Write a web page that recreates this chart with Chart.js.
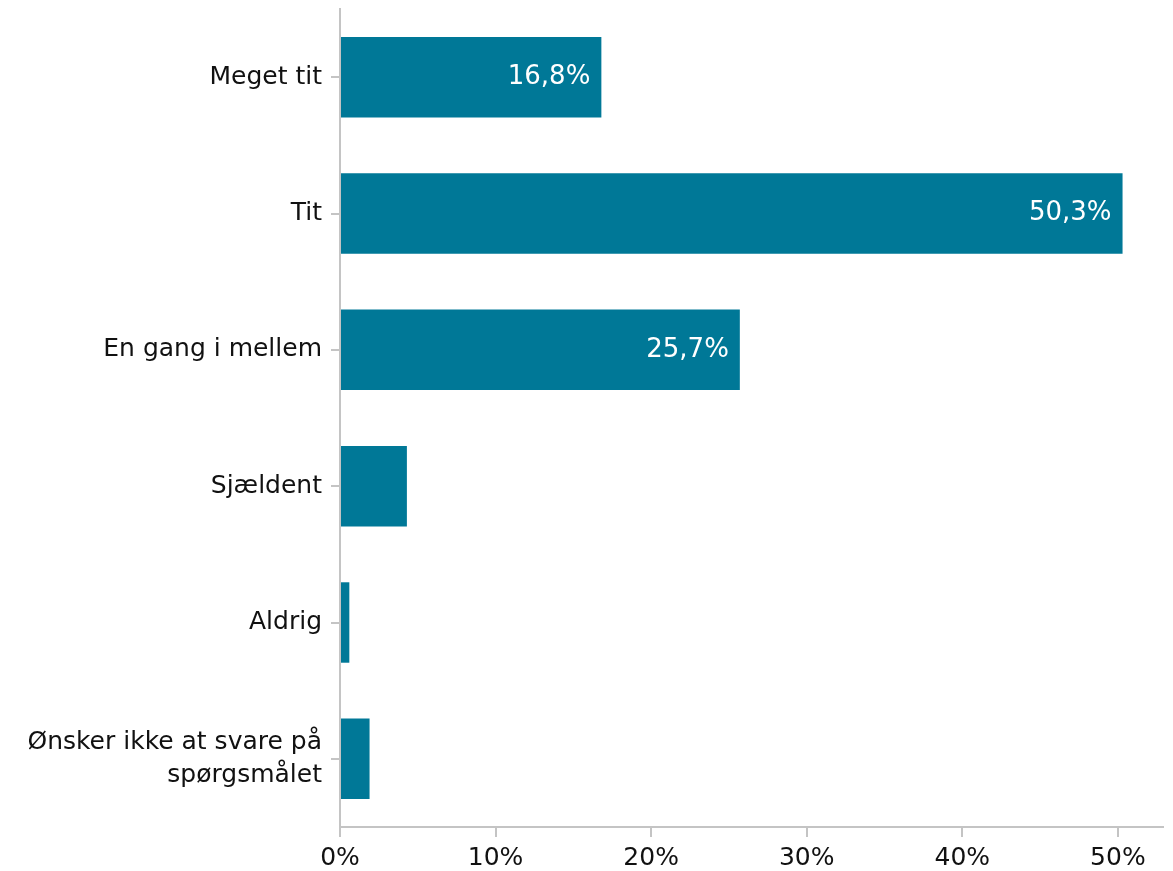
<!DOCTYPE html>
<html>
<head>
<meta charset="utf-8">
<script src="https://cdn.jsdelivr.net/npm/chart.js@4"></script>
<style>
  html, body { margin: 0; padding: 0; background: #fff; }
  #wrap { width: 1173px; height: 871px; }
</style>
</head>
<body>
<div id="wrap"><canvas id="chart"></canvas></div>
<script>
var categories = [
    "Meget tit",
    "Tit",
    "En gang i mellem",
    "Sjældent",
    "Aldrig",
    ["Ønsker ikke at svare på", "spørgsmålet"]
];
var shares = [16.8, 50.3, 25.7, 4.3, 0.6, 1.9];
var tickValues = [0, 10, 20, 30, 40, 50];

var barColor = "#007897";
var lineColor = "#c4c4c4";
var fontFamily = "'DejaVu Sans', Verdana, sans-serif";

function fmt(v) {
    return v.toFixed(1).replace(".", ",") + "%";
}

// white value labels at the inner end of the long bars
var insideLabels = {
    id: "insideLabels",
    afterDatasetsDraw: function(chart) {
        var ctx = chart.ctx;
        var meta = chart.getDatasetMeta(0);
        ctx.save();
        ctx.font = "26px " + fontFamily;
        ctx.fillStyle = "#ffffff";
        ctx.textAlign = "right";
        ctx.textBaseline = "middle";
        meta.data.forEach(function(bar, i) {
            var v = shares[i];
            if (v < 10) return;
            ctx.fillText(fmt(v), bar.x - 11, bar.y);
        });
        ctx.restore();
    }
};

// the label column is cut off a little in from the left edge
var labelClip = {
    id: "labelClip",
    afterDraw: function(chart) {
        var ctx = chart.ctx;
        ctx.save();
        ctx.fillStyle = "#ffffff";
        ctx.fillRect(0, 0, 29, chart.height);
        ctx.restore();
    }
};

new Chart(document.getElementById("chart"), {
    type: "bar",
    data: {
        labels: categories,
        datasets: [{
            data: shares,
            backgroundColor: barColor,
            borderWidth: 0,
            categoryPercentage: 1,
            barPercentage: 0.59
        }]
    },
    options: {
        indexAxis: "y",
        responsive: true,
        maintainAspectRatio: false,
        animation: false,
        layout: { padding: { top: 9, right: 10, left: 0, bottom: 0 } },
        plugins: {
            legend: { display: false },
            tooltip: { enabled: false }
        },
        scales: {
            x: {
                min: 0,
                max: 52.9,
                afterFit: function(scale) {
                    scale.height = 44;
                    scale.paddingLeft = 0;
                    scale.paddingRight = 0;
                },
                afterBuildTicks: function(scale) {
                    scale.ticks = tickValues.map(function(v) { return { value: v }; });
                },
                grid: {
                    drawOnChartArea: false,
                    drawTicks: true,
                    tickLength: 10,
                    lineWidth: 2,
                    color: lineColor
                },
                border: { color: lineColor, width: 2 },
                ticks: {
                    padding: 6,
                    color: "#111",
                    font: { family: fontFamily, size: 25 },
                    callback: function(v) { return v + "%"; }
                }
            },
            y: {
                afterFit: function(scale) {
                    scale.width = 340;
                    scale.paddingTop = 0;
                    scale.paddingBottom = 0;
                },
                grid: {
                    offset: false,
                    drawOnChartArea: false,
                    drawTicks: true,
                    tickLength: 9,
                    lineWidth: 2,
                    color: lineColor
                },
                border: { color: lineColor, width: 2 },
                ticks: {
                    padding: 9,
                    color: "#111",
                    font: { family: fontFamily, size: 25, lineHeight: 1.3 }
                }
            }
        }
    },
    plugins: [insideLabels, labelClip]
});
</script>
</body>
</html>
